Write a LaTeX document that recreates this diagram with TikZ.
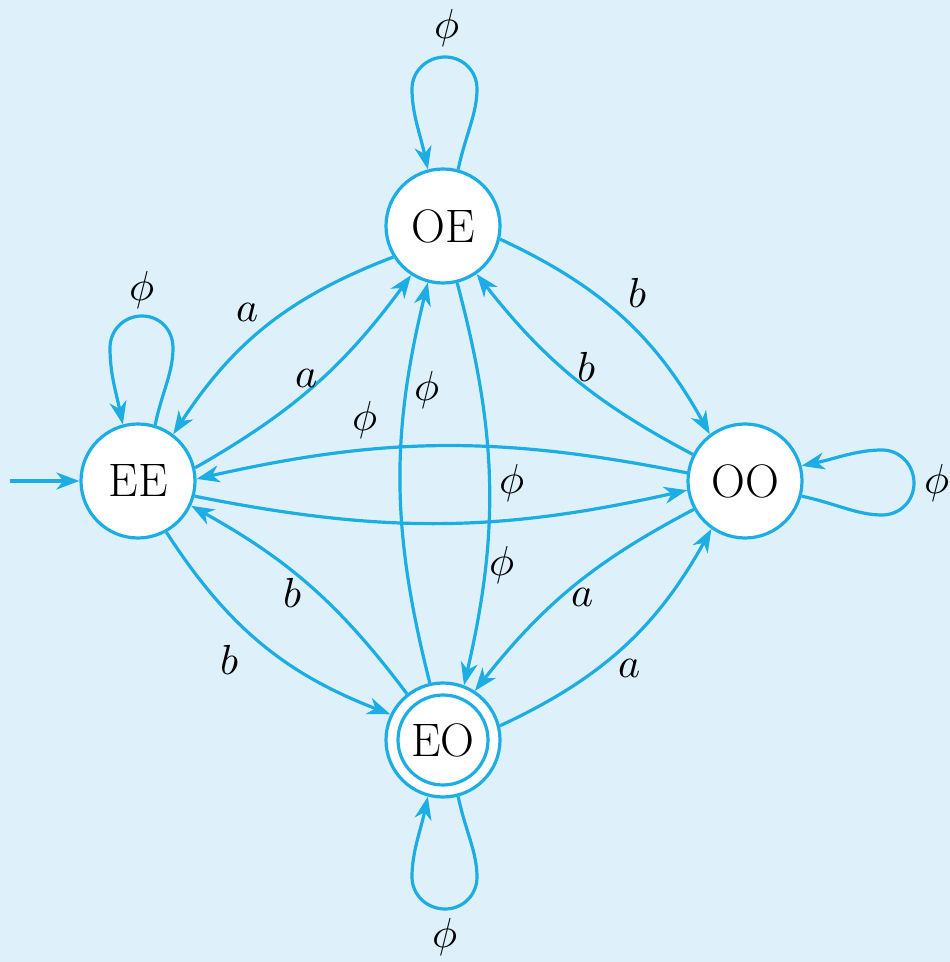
\documentclass[tikz,border=0pt]{standalone}
\usepackage{unicode-math}
\setmathfont{Latin Modern Math}
\usetikzlibrary{arrows.meta,calc}
\definecolor{bgblue}{RGB}{222,241,251}
\definecolor{lineblue}{RGB}{28,173,228}
\begin{document}
\begin{tikzpicture}[x=1pt,y=1pt,
  statenode/.style={circle,draw=lineblue,fill=white,line width=3.2pt,minimum size=114pt,inner sep=0pt,font=\fontsize{47}{52}\selectfont},
  innernode/.style={circle,draw=lineblue,line width=3.2pt,minimum size=90pt,inner sep=0pt,font=\fontsize{47}{52}\selectfont},
  edge/.style={draw=lineblue,line width=3.2pt,-{Stealth[length=23pt,width=17pt,inset=7pt]}},
  lab/.style={font=\fontsize{42}{48}\selectfont,inner sep=0pt}]
\useasboundingbox (0,0) rectangle (950,962);
\fill[bgblue] (0,0) rectangle (950,962);

\node[statenode] (OE) at (443,736) {OE};
\node[statenode] (EE) at (138,481) {EE};
\node[statenode] (OO) at (745,481) {OO};
\node[statenode] (EO) at (443,222) {};
\node[innernode] (EOi) at (EO.center) {EO};

% initial arrow
\coordinate (start) at (10,481);
\draw[edge] (start) -- (EE);

% self loops
\draw[edge] (OE.75) .. controls +(78:35) and +(-90:25) .. ($(OE.center)+(34,137)$)
  .. controls +(90:18) and +(0:18) .. ($(OE.center)+(2,169)$)
  .. controls +(180:18) and +(90:18) .. ($(OE.center)+(-31,137)$)
  .. controls +(-90:25) and +(102:35) .. (OE.105);
\draw[edge] (EE.73) .. controls +(78:35) and +(-90:25) .. ($(EE.center)+(35,133)$)
  .. controls +(90:18) and +(0:18) .. ($(EE.center)+(4,165)$)
  .. controls +(180:18) and +(90:18) .. ($(EE.center)+(-28,133)$)
  .. controls +(-90:25) and +(102:35) .. (EE.105);
\draw[edge] (OO.-15) .. controls +(-12:35) and +(180:25) .. ($(OO.center)+(137,-34)$)
  .. controls +(0:18) and +(-90:18) .. ($(OO.center)+(169,-2)$)
  .. controls +(90:18) and +(0:18) .. ($(OO.center)+(137,31)$)
  .. controls +(180:25) and +(12:35) .. (OO.15);
\draw[edge] (EO.-75) .. controls +(-78:35) and +(90:25) .. ($(EO.center)+(34,-137)$)
  .. controls +(-90:18) and +(0:18) .. ($(EO.center)+(2,-169)$)
  .. controls +(180:18) and +(-90:18) .. ($(EO.center)+(-31,-137)$)
  .. controls +(90:25) and +(-102:35) .. (EO.-105);

% OE <-> EE
\draw[edge] (OE.212) to[bend right=18] (EE.53);
\draw[edge] (EE.13) to[bend right=12] (OE.237);
% OE <-> OO
\draw[edge] (OE.347) to[bend left=18] (OO.127);
\draw[edge] (OO.153) to[bend left=12] (OE.305);
% OO <-> EE
\draw[edge] (OO.172) to[bend right=12] (EE.2);
\draw[edge] (EE.345) to[bend right=12] (OO.189);
% OE <-> EO
\draw[edge] (EO.103) to[bend left=14] (OE.255);
\draw[edge] (OE.284) to[bend left=14] (EO.69);
% EE <-> EO
\draw[edge] (EE.299) to[bend right=18] (EO.154);
\draw[edge] (EO.128) to[bend right=12] (EE.335);
% OO <-> EO
\draw[edge] (OO.209) to[bend right=12] (EO.57);
\draw[edge] (EO.14) to[bend right=18] (OO.235);

% labels
\node[lab] (l1) at (447,934) {$\phi$};
\node[lab] (l2) at (142,672) {$\phi$};
\node[lab] (l3) at (445,25) {$\phi$};
\node[lab] (l4) at (937,479) {$\phi$};
\node[lab] (l5) at (248,650) {$a$};
\node[lab] (l6) at (307,584) {$a$};
\node[lab] (l7) at (365,542) {$\phi$};
\node[lab] (l8) at (427,572) {$\phi$};
\node[lab] (l9) at (638,669) {$b$};
\node[lab] (l10) at (587,595) {$b$};
\node[lab] (l11) at (512,479) {$\phi$};
\node[lab] (l12) at (502,397) {$\phi$};
\node[lab] (l13) at (293,369) {$b$};
\node[lab] (l14) at (230,302) {$b$};
\node[lab] (l15) at (583,365) {$a$};
\node[lab] (l16) at (630,294) {$a$};
\end{tikzpicture}
\end{document}
